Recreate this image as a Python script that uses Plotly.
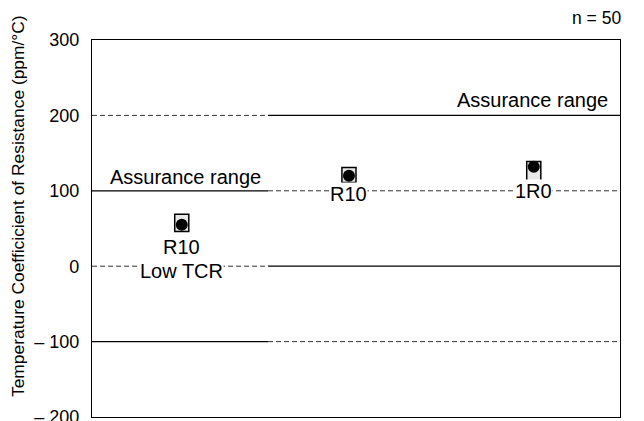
import plotly.graph_objects as go

# ---- data ----
groups = ["R10\nLow TCR", "R10", "1R0"]
x_pos = [0.51, 1.46, 2.51]
mean_vals = [55, 120, 132]
min_vals = [46, 111, 113]
max_vals = [69, 131, 139]

# assurance ranges: (x_start, x_end, low, high)
range_x0 = [0, 1]
range_x1 = [1, 3]
range_low = [-100, 0]
range_high = [100, 200]
# other reference levels (dashed)
dash_levels_left = [200, 0]
dash_levels_right = [100, -100]

y_ticks = [300, 200, 100, 0, -100, -200]
y_ticktext = ["300", "200", "100", "0", "\u2013 100", "\u2013 200"]

FONT = "Liberation Sans, Arial, Helvetica, sans-serif"

W, H = 636, 413
ML, MR, MT, MB = 84, 24, 32, 4

fig = go.Figure()

shapes = []
for x0, x1, lo, hi in zip(range_x0, range_x1, range_low, range_high):
    for lv in (lo, hi):
        shapes.append(dict(type="line", xref="x", yref="y", x0=x0, x1=x1, y0=lv, y1=lv,
                           line=dict(color="black", width=1.2), layer="below"))
for lv in dash_levels_left:
    shapes.append(dict(type="line", xref="x", yref="y", x0=range_x0[0], x1=range_x1[0], y0=lv, y1=lv,
                       line=dict(color="#333", width=1, dash="5px,3px"), layer="below"))
for lv in dash_levels_right:
    shapes.append(dict(type="line", xref="x", yref="y", x0=range_x0[1], x1=range_x1[1], y0=lv, y1=lv,
                       line=dict(color="#333", width=1, dash="5px,3px"), layer="below"))

# min-max boxes
half_w = 0.04
for x, lo, hi in zip(x_pos, min_vals, max_vals):
    shapes.append(dict(type="rect", xref="x", yref="y", x0=x - half_w, x1=x + half_w, y0=lo, y1=hi,
                       line=dict(color="black", width=1.5), fillcolor="#e8e8e8", layer="below"))

fig.add_trace(go.Scatter(x=x_pos, y=mean_vals, mode="markers",
                         marker=dict(color="black", size=12, symbol="circle"),
                         showlegend=False, hoverinfo="skip", cliponaxis=False))

annotations = []
label_specs = [
    ("R10", x_pos[0], 26),
    ("Low TCR", x_pos[0], -6),
    ("R10", x_pos[1], 96),
    ("1R0", x_pos[2], 100),
]
for txt, x, y in label_specs:
    annotations.append(dict(text=txt, x=x, y=y, xref="x", yref="y", showarrow=False,
                            font=dict(size=20, color="black", family=FONT),
                            bgcolor="white", borderpad=0))
annotations.append(dict(text="Assurance range", x=0.53, y=118, xref="x", yref="y", showarrow=False,
                        font=dict(size=20, color="black", family=FONT)))
annotations.append(dict(text="Assurance range", x=2.5, y=221, xref="x", yref="y", showarrow=False,
                        font=dict(size=20, color="black", family=FONT)))
annotations.append(dict(text="n = 50", x=1.005, y=1.058, xref="paper", yref="paper",
                        xanchor="right", yanchor="middle", showarrow=False,
                        font=dict(size=17.5, color="black", family=FONT)))

# y-axis title as rotated annotation (pixel position converted to paper coords)
plot_w = W - ML - MR
plot_h = H - MT - MB
title_px, title_py = 10, 198
annotations.append(dict(text="Temperature Coefficicient of Resistance (ppm/\u00b0C)",
                        x=(title_px - ML) / plot_w, y=(H - MB - title_py) / plot_h,
                        xref="paper", yref="paper", textangle=-90,
                        xanchor="center", yanchor="middle",
                        showarrow=False, font=dict(size=17.4, color="black", family=FONT)))

fig.update_layout(
    width=W, height=H,
    margin=dict(l=ML, r=MR, t=MT, b=MB),
    paper_bgcolor="white", plot_bgcolor="white",
    shapes=shapes, annotations=annotations,
    font=dict(family=FONT, color="black"),
    xaxis=dict(range=[0, 3], showticklabels=False, showgrid=False, zeroline=False,
               showline=True, linecolor="black", linewidth=1.3, mirror=True, ticks="",
               automargin=False),
    yaxis=dict(range=[-200, 300], tickvals=y_ticks, ticktext=y_ticktext,
               showgrid=False, zeroline=False, showline=True, linecolor="black",
               linewidth=1.3, mirror=True, ticks="", ticklabelstandoff=8,
               ticklabeloverflow="allow", automargin=False,
               tickfont=dict(size=18, family=FONT, color="black")),
)

fig.write_html("out.html")
